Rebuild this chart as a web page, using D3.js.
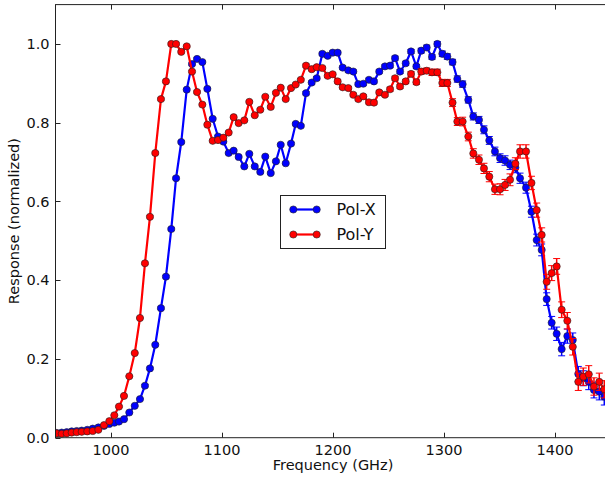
<!DOCTYPE html>
<html>
<head>
<meta charset="utf-8">
<script src="https://cdn.jsdelivr.net/npm/d3@7"></script>
<style>
  body { margin: 0; background: #fff; }
  svg { display: block; }
  text { font-family: "DejaVu Sans", sans-serif; fill: #111; }
</style>
</head>
<body>
<script>
// frequency grid (GHz), shared by both polarisations
var freqs = [
  951.1, 955.6, 960.1, 964.6, 969.1, 973.6, 978.6, 983.5, 988.6, 993.7,
  998.5, 1003, 1007.2, 1011.7, 1016.5, 1021.4, 1026.1, 1030.6, 1035.1, 1039.9,
  1045, 1049.5, 1054.3, 1058.6, 1063.3, 1068.2, 1073, 1077.5, 1082.3, 1086.8,
  1091.6, 1096.4, 1101.2, 1106, 1110.5, 1115, 1120.1, 1124.6, 1129.5, 1134.5,
  1139, 1143.9, 1148.6, 1152.9, 1157.4, 1162.2, 1166.4, 1171, 1175.7, 1180.8,
  1185.3, 1190.4, 1195.2, 1199.7, 1204.2, 1208.7, 1213.8, 1218.3, 1222.8, 1227.3,
  1232.4, 1236.9, 1241.7, 1246.8, 1251.4, 1255.9, 1260.4, 1265.5, 1270.3, 1275.1,
  1279.5, 1284.4, 1289.2, 1294, 1298.5, 1303, 1307.7, 1312, 1316.8, 1321.9,
  1326.4, 1331.5, 1336, 1340.8, 1345.9, 1350.5, 1355, 1359.5, 1364.3, 1368.5,
  1373.9, 1378.8, 1383.5, 1388, 1392.5, 1397, 1401.5, 1406, 1411.1, 1416,
  1421, 1425.5, 1430.4, 1435.1, 1439.9, 1444.4
];

var polX = [
  .012, .013, .014, .016, .017, .018, .020, .023, .026, .030,
  .035, .038, .041, .047, .064, .081, .098, .132, .176, .236,
  .329, .409, .530, .659, .751, .884, .949, .962, .954, .886,
  .810, .765, .752, .723, .729, .713, .689, .721, .689, .675,
  .714, .672, .702, .744, .697, .747, .797, .792, .875, .902,
  .913, .975, .970, .978, .978, .940, .933, .930, .898, .899,
  .909, .905, .930, .943, .945, .964, .930, .951, .981, .943,
  .983, .991, .967, 1.0, .975, .968, .954, .911, .898, .858,
  .816, .807, .782, .755, .727, .710, .704, .693, .686, .659,
  .635, .574, .502, .477, .352, .292, .264, .225, .258, .248,
  .162, .151, .142, .121, .117, .104
];

var polY = [
  .011, .010, .011, .013, .014, .015, .016, .017, .020, .032,
  .042, .057, .079, .106, .156, .215, .304, .443, .561, .723,
  .860, .905, 1.0, 1.0, .980, .994, .930, .878, .846, .795,
  .754, .756, .762, .775, .814, .799, .806, .853, .819, .833,
  .866, .840, .876, .889, .860, .888, .897, .909, .945, .936,
  .941, .939, .919, .923, .905, .890, .888, .871, .860, .867,
  .852, .851, .877, .871, .885, .913, .892, .905, .924, .903,
  .930, .932, .928, .928, .901, .901, .851, .803, .803, .765,
  .722, .706, .684, .663, .631, .631, .642, .655, .696, .727,
  .727, .647, .578, .515, .396, .418, .435, .325, .297, .231,
  .142, .155, .161, .130, .142, .123
];

// error bar half-heights
var errX = [
  .002, .002, .002, .002, .002, .002, .002, .002, .002, .002,
  .002, .002, .002, .002, .002, .002, .002, .003, .003, .003,
  .003, .003, .003, .003, .003, .003, .003, .003, .003, .003,
  .003, .003, .003, .003, .003, .003, .003, .003, .003, .003,
  .003, .003, .003, .003, .003, .003, .003, .003, .004, .004,
  .004, .004, .004, .004, .004, .004, .004, .004, .004, .004,
  .004, .004, .004, .004, .005, .005, .005, .005, .005, .005,
  .006, .006, .006, .006, .007, .007, .007, .008, .008, .008,
  .009, .009, .010, .010, .011, .011, .012, .012, .013, .013,
  .014, .014, .015, .015, .016, .016, .017, .017, .018, .018,
  .019, .019, .020, .020, .021, .021
];

var errY = [
  .002, .002, .002, .002, .002, .002, .002, .002, .002, .002,
  .002, .002, .002, .002, .002, .002, .002, .003, .003, .003,
  .003, .003, .003, .003, .003, .003, .003, .003, .003, .003,
  .003, .003, .003, .003, .003, .003, .003, .003, .003, .003,
  .003, .003, .003, .003, .003, .003, .003, .003, .004, .004,
  .004, .004, .004, .004, .004, .004, .004, .004, .004, .004,
  .004, .004, .004, .004, .005, .005, .005, .005, .006, .006,
  .007, .007, .008, .008, .009, .009, .010, .010, .011, .011,
  .012, .012, .013, .013, .013, .014, .014, .015, .015, .017,
  .017, .017, .018, .018, .019, .019, .020, .020, .021, .021,
  .022, .022, .022, .022, .022, .022
];

var xTicks = [1000, 1100, 1200, 1300, 1400];
var yTicks = [0.0, 0.2, 0.4, 0.6, 0.8, 1.0];

var width = 605, height = 478;
var padL = 55.5, padR = 610.5, padT = 4.6, padB = 437.7; // axes box in pixels

var svg = d3.select("body").append("svg")
    .attr("width", width)
    .attr("height", height);

var x = d3.scaleLinear().domain([950, 1450]).range([padL, padR]);
var y = d3.scaleLinear().domain([0, 1.1]).range([padB, padT]);

svg.append("clipPath").attr("id", "plotclip")
  .append("rect")
    .attr("x", padL).attr("y", padT)
    .attr("width", padR - padL).attr("height", padB - padT);

var series = [
  { name: "Pol-X", vals: polX, err: errX, color: "#0000ff" },
  { name: "Pol-Y", vals: polY, err: errY, color: "#ff0000" }
];

var plot = svg.append("g").attr("clip-path", "url(#plotclip)");

var line = d3.line()
    .x(function (d) { return x(d.f); })
    .y(function (d) { return y(d.v); });

series.forEach(function (s) {
  var pts = freqs.map(function (f, i) { return { f: f, v: s.vals[i], e: s.err[i] }; });
  var g = plot.append("g");

  // error bars
  var eb = g.selectAll(".eb").data(pts).enter().append("g");
  eb.append("line")
      .attr("x1", function (d) { return x(d.f); })
      .attr("x2", function (d) { return x(d.f); })
      .attr("y1", function (d) { return y(d.v - d.e); })
      .attr("y2", function (d) { return y(d.v + d.e); })
      .attr("stroke", s.color).attr("stroke-width", 1.5);
  [-1, 1].forEach(function (sgn) {
    eb.append("line")
        .attr("x1", function (d) { return x(d.f) - 3.5; })
        .attr("x2", function (d) { return x(d.f) + 3.5; })
        .attr("y1", function (d) { return y(d.v + sgn * d.e); })
        .attr("y2", function (d) { return y(d.v + sgn * d.e); })
        .attr("stroke", s.color).attr("stroke-width", 1);
  });

  g.append("path")
      .datum(pts)
      .attr("d", line)
      .attr("fill", "none")
      .attr("stroke", s.color)
      .attr("stroke-width", 2.2)
      .attr("stroke-linejoin", "round");

  g.selectAll("circle").data(pts).enter().append("circle")
      .attr("cx", function (d) { return x(d.f); })
      .attr("cy", function (d) { return y(d.v); })
      .attr("r", 3.6)
      .attr("fill", s.color)
      .attr("stroke", "#222")
      .attr("stroke-width", 0.6);
});

// frame + inward ticks on all sides
var frame = svg.append("g");
frame.append("rect")
    .attr("x", padL).attr("y", padT)
    .attr("width", padR - padL).attr("height", padB - padT)
    .attr("fill", "none").attr("stroke", "#222").attr("stroke-width", 1);

var tl = 5;
xTicks.forEach(function (t) {
  var px = Math.round(x(t)) + 0.5;
  frame.append("line").attr("x1", px).attr("x2", px).attr("y1", padB).attr("y2", padB - tl)
      .attr("stroke", "#222");
  frame.append("line").attr("x1", px).attr("x2", px).attr("y1", padT).attr("y2", padT + tl)
      .attr("stroke", "#222");
  frame.append("text").attr("x", x(t)).attr("y", 455)
      .attr("text-anchor", "middle").attr("font-size", 14.5).text(t);
});
yTicks.forEach(function (t) {
  var py = Math.round(y(t)) + 0.5;
  frame.append("line").attr("x1", padL).attr("x2", padL + tl).attr("y1", py).attr("y2", py)
      .attr("stroke", "#222");
  frame.append("line").attr("x1", padR).attr("x2", padR - tl).attr("y1", py).attr("y2", py)
      .attr("stroke", "#222");
  frame.append("text").attr("x", 49.5).attr("y", y(t)).attr("dy", "0.36em")
      .attr("text-anchor", "end").attr("font-size", 14.5).text(d3.format(".1f")(t));
});

svg.append("text")
    .attr("x", (padL + padR) / 2).attr("y", 470)
    .attr("text-anchor", "middle").attr("font-size", 14.5)
    .text("Frequency (GHz)");

svg.append("text")
    .attr("transform", "translate(18.5," + ((padT + padB) / 2) + ") rotate(-90)")
    .attr("text-anchor", "middle").attr("font-size", 14.5)
    .text("Response (normalized)");

// legend
var legend = svg.append("g");
legend.append("rect")
    .attr("x", 280.5).attr("y", 195.5).attr("width", 105).attr("height", 53)
    .attr("fill", "#fff").attr("stroke", "#222").attr("stroke-width", 1);

series.forEach(function (s, i) {
  var ly = 209.5 + i * 25;
  legend.append("line").attr("x1", 293.3).attr("x2", 316.7).attr("y1", ly).attr("y2", ly)
      .attr("stroke", s.color).attr("stroke-width", 2.2);
  [293.3, 316.7].forEach(function (cx) {
    legend.append("circle").attr("cx", cx).attr("cy", ly).attr("r", 3.6)
        .attr("fill", s.color).attr("stroke", "#222").attr("stroke-width", 0.6);
  });
  legend.append("text").attr("x", 336.5).attr("y", ly).attr("dy", "0.36em")
      .attr("font-size", 16).text(s.name);
});
</script>
</body>
</html>
